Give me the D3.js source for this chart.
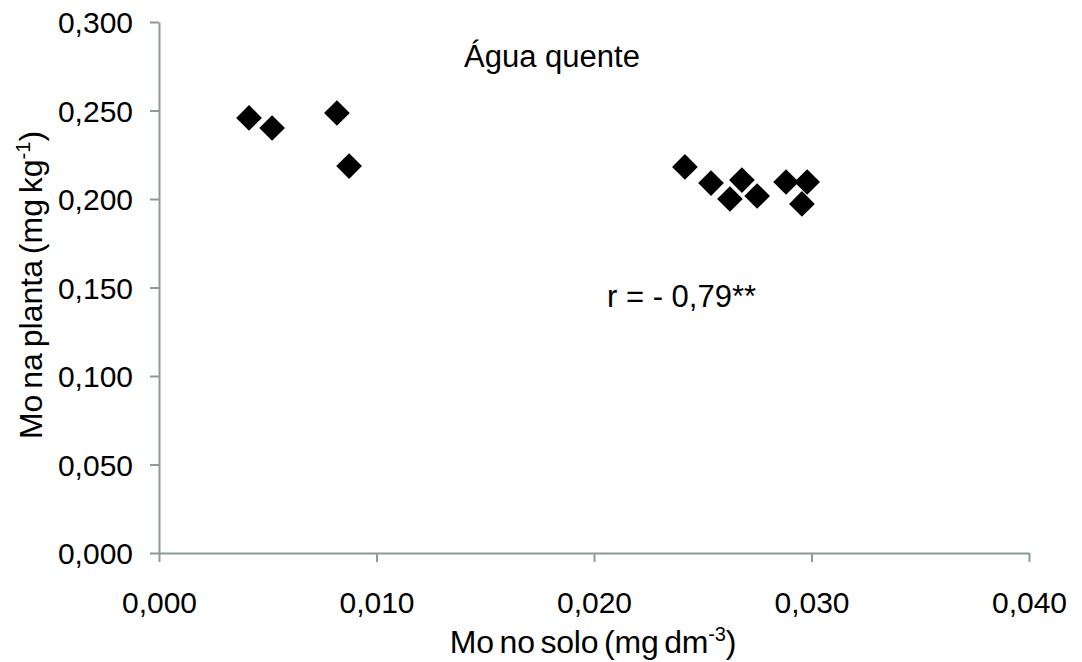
<!DOCTYPE html>
<html>
<head>
<meta charset="utf-8">
<script src="https://cdn.jsdelivr.net/npm/d3@7"></script>
<style>
  body { margin: 0; background: #fff; }
  text { font-family: "Liberation Sans", Arial, sans-serif; fill: #000; }
</style>
</head>
<body>
<div id="chart"></div>
<script>
// Mo no solo (x) vs Mo na planta (y)
var soloMo = [0.00414, 0.0052, 0.00818, 0.00874, 0.02418, 0.02538, 0.0268, 0.02625, 0.0275, 0.02883, 0.0298, 0.02956];
var plantaMo = [0.2458, 0.2401, 0.2486, 0.2186, 0.2181, 0.2090, 0.2107, 0.2000, 0.2017, 0.2096, 0.2096, 0.1972];
var xTicks = [0, 0.01, 0.02, 0.03, 0.04];
var yTicks = [0, 0.05, 0.1, 0.15, 0.2, 0.25, 0.3];

var width = 1082, height = 662;
var margin = { top: 22, right: 53, bottom: 109, left: 159 };

var x = d3.scaleLinear().domain([0, 0.04]).range([margin.left, width - margin.right]);
var y = d3.scaleLinear().domain([0, 0.3]).range([height - margin.bottom, margin.top]);

var fmt = function(d) { return d3.format('.3f')(d).replace('.', ','); };

var svg = d3.select('#chart')
  .append('svg')
  .attr('width', width)
  .attr('height', height);

var axisColor = '#8c9a9a';

var gx = svg.append('g')
  .attr('transform', 'translate(0,' + y(0) + ')')
  .call(d3.axisBottom(x).tickValues(xTicks).tickFormat(fmt).tickSize(9).tickSizeOuter(0));
var gy = svg.append('g')
  .attr('transform', 'translate(' + x(0) + ',0)')
  .call(d3.axisLeft(y).tickValues(yTicks).tickFormat(fmt).tickSize(9).tickSizeOuter(0));

[gx, gy].forEach(function(g) {
  g.select('.domain').attr('stroke', axisColor).attr('stroke-width', 2);
  g.selectAll('.tick line').attr('stroke', axisColor).attr('stroke-width', 2);
  g.selectAll('.tick text').attr('font-size', 30).attr('font-family', '"Liberation Sans", Arial, sans-serif').attr('fill', '#000');
});
gx.selectAll('.tick text').attr('y', 60).attr('dy', 0);
gy.selectAll('.tick text').attr('x', -26).attr('dy', '0.36em');

var pts = soloMo.map(function(d, i) { return [d, plantaMo[i]]; });
svg.append('g').selectAll('path')
  .data(pts)
  .enter().append('path')
  .attr('d', d3.symbol().type(d3.symbolSquare).size(330))
  .attr('transform', function(d) { return 'translate(' + x(d[0]) + ',' + y(d[1]) + ') rotate(45)'; })
  .attr('fill', '#000');

svg.append('text')
  .attr('x', 552).attr('y', 67)
  .attr('text-anchor', 'middle')
  .attr('font-size', 31)
  .text('Água quente');

svg.append('text')
  .attr('x', 607).attr('y', 307)
  .attr('font-size', 31)
  .text('r = - 0,79**');

var xt = svg.append('text')
  .attr('x', 593).attr('y', 653)
  .attr('text-anchor', 'middle')
  .attr('font-size', 32)
  .attr('letter-spacing', -0.2)
  .attr('word-spacing', -3);
xt.append('tspan').text('Mo no solo (mg dm');
xt.append('tspan').attr('font-size', 20).attr('dy', -12).text('-3');
xt.append('tspan').attr('dy', 12).text(')');

var yt = svg.append('text')
  .attr('transform', 'translate(42,285) rotate(-90)')
  .attr('text-anchor', 'middle')
  .attr('font-size', 32)
  .attr('letter-spacing', 0)
  .attr('word-spacing', -3);
yt.append('tspan').text('Mo na planta (mg kg');
yt.append('tspan').attr('font-size', 20).attr('dy', -12).text('-1');
yt.append('tspan').attr('dy', 12).text(')');
</script>
</body>
</html>
